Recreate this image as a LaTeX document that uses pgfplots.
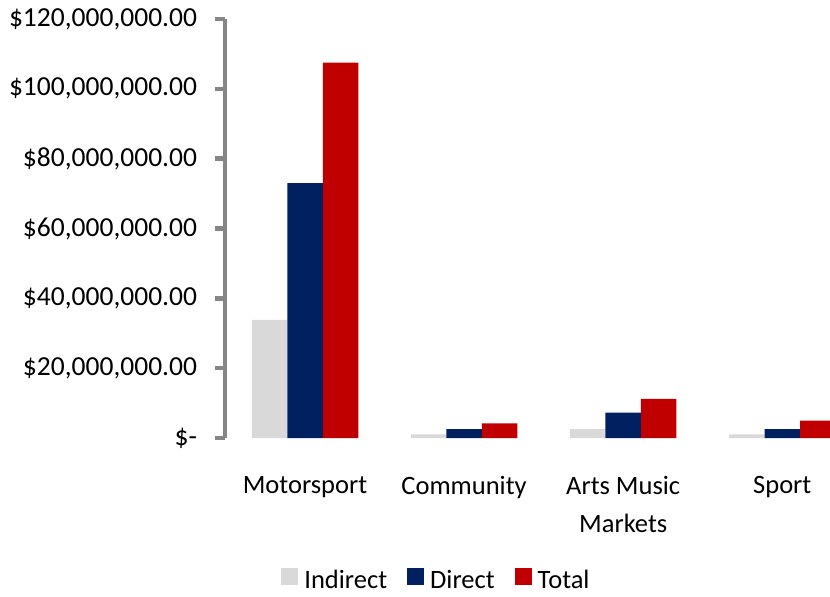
\documentclass[border=0pt]{standalone}
\usepackage{fontspec}
\setmainfont{Carlito}
\usepackage{pgfplots}
\pgfplotsset{compat=1.18}

\definecolor{indirectgray}{RGB}{217,217,217}
\definecolor{directnavy}{RGB}{0,32,96}
\definecolor{totalred}{RGB}{192,0,0}
\definecolor{axisgray}{RGB}{134,134,134}

\begin{document}
\fontsize{26.5}{38}\selectfont
\begin{tikzpicture}
\useasboundingbox (-225pt,-159pt) rectangle (605pt,438pt);
\begin{axis}[
  width=605pt, height=419pt, scale only axis,
  ybar=0pt, bar width=35.5pt,
  xmin=-0.503, xmax=3.3,
  ymin=0, ymax=120000000,
  axis y line*=left, axis x line*=bottom,
  x axis line style={draw=none},
  y axis line style={line width=4.5pt, color=axisgray},
  xtick={0,1,2,3},
  xticklabels={Motorsport,Community,{Arts Music\\Markets},Sport},
  xticklabel style={align=center, yshift=-19pt, font=\fontsize{26.5}{38}\selectfont},
  xtick style={draw=none},
  ytick={0,20000000,40000000,60000000,80000000,100000000,120000000},
  yticklabels={{\$-\hspace{14pt}},{\$20,000,000.00},{\$40,000,000.00},{\$60,000,000.00},{\$80,000,000.00},{\$100,000,000.00},{\$120,000,000.00}},
  yticklabel style={xshift=-9pt, font=\fontsize{27.5}{33}\selectfont},
  scaled y ticks=false,
  ytick style={line width=4.5pt, color=axisgray},
  tick align=outside, major tick length=10pt,
  legend columns=-1,
  legend style={at={(0.3504,-0.340)}, anchor=center, draw=none,
    font=\fontsize{26.5}{30}\selectfont, inner sep=0pt,
    nodes={inner xsep=3pt, inner ysep=0pt},
    /tikz/every odd column/.append style={column sep=3pt},
    /tikz/every even column/.append style={column sep=17pt}},
  legend image code/.code={\fill[#1] (0pt,-4pt) rectangle (17pt,13pt);},
]
\addplot[fill=indirectgray, draw=none] coordinates {(0,33800000) (1,1060000) (2,2570000) (3,1060000)};
\addplot[fill=directnavy, draw=none] coordinates {(0,73000000) (1,2570000) (2,7300000) (3,2570000)};
\addplot[fill=totalred, draw=none] coordinates {(0,107500000) (1,4200000) (2,11200000) (3,4950000)};
\legend{Indirect,Direct,Total}
\end{axis}
\end{tikzpicture}
\end{document}
